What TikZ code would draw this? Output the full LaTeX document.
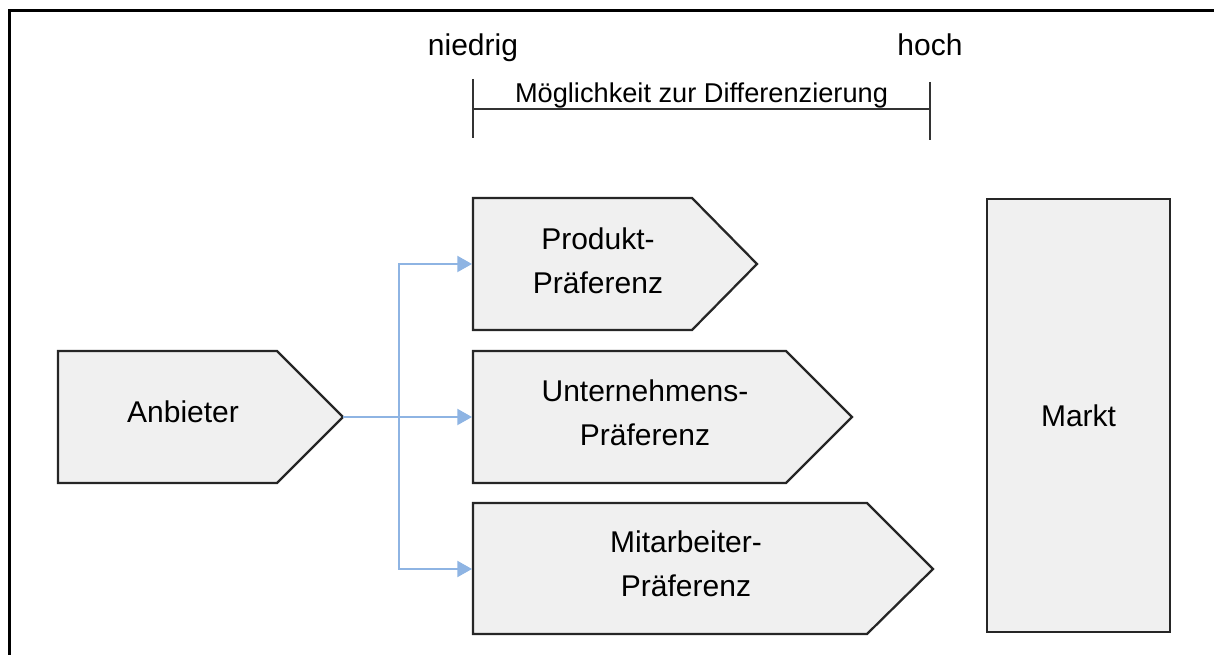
\documentclass[tikz,border=0pt]{standalone}
\usepackage{fontspec}
\setmainfont{Liberation Sans}
\usetikzlibrary{arrows.meta}
\definecolor{boxgray}{HTML}{F0F0F0}
\definecolor{boxline}{HTML}{262626}
\definecolor{linkblue}{HTML}{8EB4E3}
\definecolor{scalegray}{HTML}{333333}
\tikzset{
  frameline/.style={draw=black, line width=2.25pt},
  scaleline/.style={draw=scalegray, line width=1.5pt},
  shapebox/.style={fill=boxgray, draw=boxline, line width=1.7pt, line join=miter},
  lbl/.style={font=\fontsize{22.5}{33}\selectfont, align=center, inner sep=0pt},
  toplbl/.style={font=\fontsize{22.5}{27}\selectfont, inner sep=0pt},
  midlbl/.style={font=\fontsize{20.4}{24}\selectfont, inner sep=0pt},
  link/.style={draw=linkblue, line width=1.5pt, -{Triangle[length=11pt,width=12pt]}}
}
\begin{document}
\begin{tikzpicture}[x=0.75pt,y=-0.75pt]
\path[use as bounding box] (0,0) rectangle (1214,655);

% outer frame (runs off the page at right and bottom)
\begin{scope}
  \clip (0,0) rectangle (1214,655);
  \draw[frameline] (9.5,700) -- (9.5,11) -- (1300,11);
\end{scope}

% scale: differentiation potential
\coordinate (lo) at (473,109);
\coordinate (hi) at (930,109);
\draw[scaleline] ([yshift=22.5pt]lo) -- ([yshift=-21.75pt]lo);
\draw[scaleline] ([yshift=20.25pt]hi) -- ([yshift=-23.25pt]hi);
\draw[scaleline] (lo) -- (hi);
\node[toplbl, anchor=base] (niedrig) at (473,56) {niedrig};
\node[toplbl, anchor=base] (hoch) at (930,56) {hoch};
\node[midlbl, anchor=base] (diff) at (701.5,103) {Möglichkeit zur Differenzierung};

% arrow-shaped boxes
\path[shapebox] (58,351) -- (277,351) -- (343,417) -- (277,483) -- (58,483) -- cycle;
\path[shapebox] (473,198) -- (692,198) -- (757,264) -- (692,330) -- (473,330) -- cycle;
\path[shapebox] (473,351) -- (786,351) -- (852,417) -- (786,483) -- (473,483) -- cycle;
\path[shapebox] (473,503) -- (867,503) -- (933,569) -- (867,634) -- (473,634) -- cycle;

\node[lbl] (anb) at (183,412) {Anbieter};
\node[lbl] (prod) at (598,261) {Produkt-\\Präferenz};
\node[lbl] (unt) at (645,413) {Unternehmens-\\Präferenz};
\node[lbl] (mit) at (686,564) {Mitarbeiter-\\Präferenz};

% market block
\node[shapebox, lbl, minimum width=137.25pt, minimum height=324.75pt] (markt) at (1078.5,415.5) {Markt};

% connectors
\coordinate (anbtip) at (343,417);
\coordinate (split) at (399,417);
\coordinate (prodin) at (472,264);
\coordinate (untin) at (472,417);
\coordinate (mitin) at (472,569);
\draw[link] (anbtip) -- (untin);
\draw[link] (split) |- (prodin);
\draw[link] (split) |- (mitin);
\end{tikzpicture}
\end{document}
